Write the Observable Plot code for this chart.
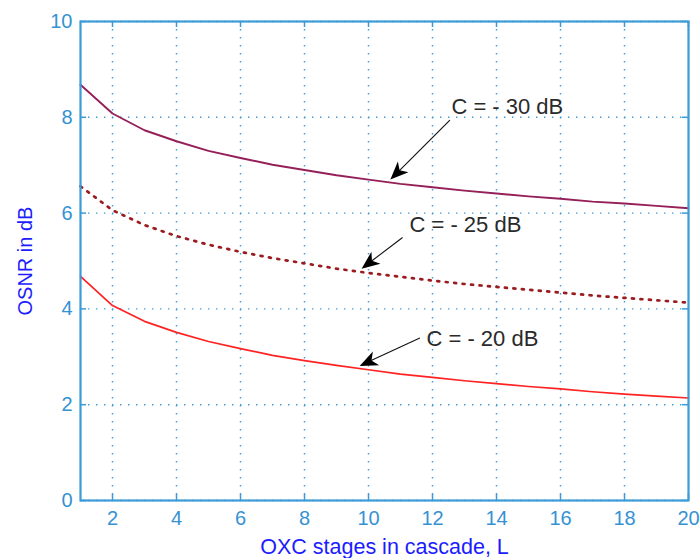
<!DOCTYPE html>
<html><head><meta charset="utf-8">
<script src="https://cdn.jsdelivr.net/npm/d3@7"></script>
<script src="https://cdn.jsdelivr.net/npm/@observablehq/plot@0.6"></script>
<style>body{margin:0;background:#fff} svg{display:block}</style>
</head><body><div id="chart"></div>
<script>
const stages = [1,2,3,4,5,6,7,8,9,10,11,12,13,14,15,16,17,18,19,20];
const osnrC30 = [8.68,8.08,7.73,7.50,7.30,7.15,7.01,6.90,6.79,6.70,6.61,6.54,6.47,6.41,6.35,6.30,6.24,6.20,6.15,6.10];
const osnrC25 = [6.56,6.06,5.75,5.52,5.34,5.19,5.06,4.95,4.84,4.75,4.67,4.59,4.52,4.46,4.40,4.34,4.28,4.23,4.18,4.13];
const osnrC20 = [4.68,4.07,3.74,3.51,3.32,3.17,3.03,2.92,2.82,2.73,2.64,2.57,2.50,2.44,2.38,2.33,2.27,2.22,2.18,2.14];
const xTicks = [2,4,6,8,10,12,14,16,18,20];
const yTicks = [0,2,4,6,8,10];
const xLabel = "OXC stages in cascade, L";
const yLabel = "OSNR in dB";
const annLabels = ["C = - 30 dB", "C = - 25 dB", "C = - 20 dB"];
const annTextX = [12.59, 11.28, 11.81];
const annTextY = [8.21, 5.76, 3.37];
const arrowX1 = [12.56, 11.08, 11.62];
const arrowY1 = [7.93, 5.48, 3.38];
const arrowX2 = [10.70, 9.80, 9.74];
const arrowY2 = [6.69, 4.83, 2.80];

const series = (vals) => stages.map((s, i) => ({L: s, v: vals[i]}));
const anns = annLabels.map((t, i) => ({t, tx: annTextX[i], ty: annTextY[i], x1: arrowX1[i], y1: arrowY1[i], x2: arrowX2[i], y2: arrowY2[i]}));

const axisBlue = "#3b9bd8";
const W = 700, H = 558, mL = 80, mR = 12, mT = 21, mB = 58;
const innerW = W - mL - mR, innerH = H - mT - mB;

function heads(index, scales) {
  const g = d3.create("svg:g");
  const sx = scales.x, sy = scales.y;
  for (const a of anns) {
    const X1 = sx(a.x1), Y1 = sy(a.y1), X2 = sx(a.x2), Y2 = sy(a.y2);
    const dx = X2 - X1, dy = Y2 - Y1, len = Math.hypot(dx, dy);
    const ux = dx / len, uy = dy / len, nx = -uy, ny = ux;
    const Lh = 18, Wh = 7.5, notch = 5;
    const pts = [
      [X2, Y2],
      [X2 - ux * Lh + nx * Wh, Y2 - uy * Lh + ny * Wh],
      [X2 - ux * (Lh - notch), Y2 - uy * (Lh - notch)],
      [X2 - ux * Lh - nx * Wh, Y2 - uy * Lh - ny * Wh]
    ];
    g.append("line").attr("x1", X1).attr("y1", Y1).attr("x2", X2 - ux * 6).attr("y2", Y2 - uy * 6)
      .attr("stroke", "#111").attr("stroke-width", 1.1);
    g.append("polygon").attr("points", pts.map(p => p.join(",")).join(" ")).attr("fill", "#000");
  }
  return g.node();
}

const chart = Plot.plot({
  width: W, height: H,
  marginLeft: mL, marginRight: mR, marginTop: mT, marginBottom: mB,
  style: {fontFamily: "'Liberation Sans', Arial, sans-serif", fontSize: "20px", background: "#fff"},
  x: {domain: [1, 20]},
  y: {domain: [0, 10]},
  marks: [
    Plot.gridX({ticks: xTicks, stroke: axisBlue, strokeOpacity: 1, strokeWidth: 1.4, strokeDasharray: "1.4,6.6"}),
    Plot.gridY({ticks: yTicks, stroke: axisBlue, strokeOpacity: 1, strokeWidth: 1.4, strokeDasharray: "1.4,6.6"}),
    Plot.tickX(xTicks, {x: d => d, insetTop: innerH - 6, stroke: axisBlue, strokeWidth: 1.5}),
    Plot.tickX(xTicks, {x: d => d, insetBottom: innerH - 6, stroke: axisBlue, strokeWidth: 1.5}),
    Plot.tickY(yTicks, {y: d => d, insetRight: innerW - 6, stroke: axisBlue, strokeWidth: 1.5}),
    Plot.tickY(yTicks, {y: d => d, insetLeft: innerW - 6, stroke: axisBlue, strokeWidth: 1.5}),
    Plot.axisX({ticks: xTicks, tickSize: 0, tickPadding: 10, label: null, color: "#3592d2", fontSize: 20}),
    Plot.axisY({ticks: yTicks, tickSize: 0, tickPadding: 8, label: null, color: "#3592d2", fontSize: 20}),
    Plot.line(series(osnrC30), {x: "L", y: "v", stroke: "#951f58", strokeWidth: 1.9}),
    Plot.line(series(osnrC25), {x: "L", y: "v", stroke: "#9a1c20", strokeWidth: 2.7, strokeDasharray: "2,6.5"}),
    Plot.line(series(osnrC20), {x: "L", y: "v", stroke: "#ff2222", strokeWidth: 1.7}),
    Plot.text(anns, {x: "tx", y: "ty", text: "t", textAnchor: "start", fill: "#2a2a2a", fontSize: 22}),
    heads,
    Plot.frame({stroke: axisBlue, strokeWidth: 2.2}),
    Plot.text([xLabel], {frameAnchor: "bottom", lineAnchor: "middle", dy: 47, text: d => d, fill: "#1c1cff", fontSize: 21.5}),
    Plot.text([yLabel], {frameAnchor: "left", textAnchor: "middle", lineAnchor: "middle", dx: -55, rotate: -90, text: d => d, fill: "#1c1cff", fontSize: 20})
  ]
});
document.getElementById("chart").appendChild(chart);
</script>
</body></html>
